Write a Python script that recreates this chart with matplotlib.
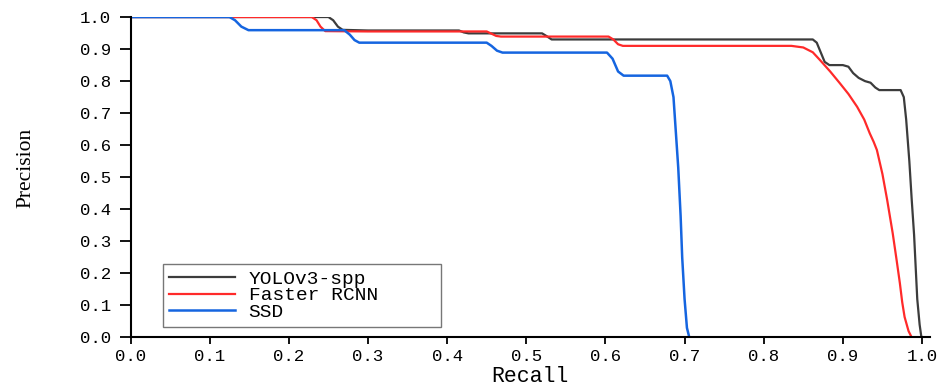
import matplotlib
matplotlib.use("Agg")
import matplotlib.pyplot as plt

# PR curves
yolo_recall = [0.0, 0.250, 0.256, 0.262, 0.268, 0.300, 0.415, 0.421, 0.427, 0.520,
               0.526, 0.532, 0.862, 0.867, 0.872, 0.877, 0.883, 0.900, 0.907, 0.913,
               0.920, 0.928, 0.935, 0.941, 0.946, 0.973, 0.977, 0.980, 0.984, 0.987,
               0.990, 0.994, 0.997, 0.999, 1.000]
yolo_prec = [1.0, 1.0, 0.99, 0.97, 0.96, 0.958, 0.958, 0.952, 0.949, 0.949,
             0.94, 0.93, 0.93, 0.92, 0.89, 0.86, 0.85, 0.85, 0.845, 0.825,
             0.81, 0.80, 0.795, 0.78, 0.772, 0.772, 0.75, 0.68, 0.55, 0.43,
             0.32, 0.12, 0.04, 0.005, 0.0]

frcnn_recall = [0.0, 0.229, 0.235, 0.240, 0.246, 0.300, 0.450, 0.456, 0.462, 0.468,
                0.604, 0.610, 0.616, 0.622, 0.835, 0.850, 0.862, 0.871, 0.884, 0.896,
                0.907, 0.918, 0.927, 0.934, 0.939, 0.943, 0.950, 0.956, 0.963, 0.968,
                0.972, 0.975, 0.978, 0.983, 0.987, 1.0]
frcnn_prec = [1.0, 1.0, 0.99, 0.97, 0.956, 0.955, 0.955, 0.948, 0.941, 0.939,
              0.939, 0.93, 0.915, 0.91, 0.91, 0.905, 0.89, 0.866, 0.83, 0.794,
              0.76, 0.72, 0.68, 0.637, 0.61, 0.585, 0.51, 0.429, 0.325, 0.24,
              0.17, 0.11, 0.064, 0.02, 0.0, 0.0]

ssd_recall = [0.0, 0.125, 0.132, 0.140, 0.149, 0.270, 0.277, 0.283, 0.289, 0.450,
              0.456, 0.463, 0.470, 0.602, 0.609, 0.616, 0.623, 0.678, 0.682, 0.686,
              0.689, 0.692, 0.695, 0.697, 0.700, 0.703, 0.706, 1.0]
ssd_prec = [1.0, 1.0, 0.99, 0.97, 0.959, 0.959, 0.945, 0.928, 0.92, 0.92,
            0.91, 0.895, 0.889, 0.889, 0.87, 0.83, 0.817, 0.817, 0.80, 0.75,
            0.64, 0.53, 0.38, 0.25, 0.12, 0.03, 0.0, 0.0]

xticks = [0.0, 0.1, 0.2, 0.3, 0.4, 0.5, 0.6, 0.7, 0.8, 0.9, 1.0]
yticks = [0.0, 0.1, 0.2, 0.3, 0.4, 0.5, 0.6, 0.7, 0.8, 0.9, 1.0]

mono = "Liberation Mono"

fig = plt.figure(figsize=(9.46, 3.87), dpi=100)
ax = fig.add_axes([0.138, 0.128, 0.845, 0.828])

ax.plot(yolo_recall, yolo_prec, color="#3c3c3c", lw=1.6, label="YOLOv3-spp")
ax.plot(frcnn_recall, frcnn_prec, color="#ff2a2a", lw=1.6, label="Faster RCNN")
ax.plot(ssd_recall, ssd_prec, color="#1565e0", lw=1.8, label="SSD")

ax.set_xlim(0, 1.01)
ax.set_ylim(0, 1.0)
ax.set_xticks(xticks)
ax.set_yticks(yticks)
ax.set_xticklabels([f"{v:.1f}" for v in xticks], fontfamily=mono, fontsize=12.5)
ax.set_yticklabels([f"{v:.1f}" for v in yticks], fontfamily=mono, fontsize=12.5)
ax.tick_params(axis="y", direction="out", length=8, width=1.3, pad=6)
ax.tick_params(axis="x", direction="out", length=5, width=1.3, pad=3)

for s in ["top", "right"]:
    ax.spines[s].set_visible(False)
for s in ["left", "bottom"]:
    ax.spines[s].set_linewidth(1.5)
ax.spines["left"].set_bounds(0, 1.0)

ax.set_xlabel("Recall", fontfamily=mono, fontsize=15.5, labelpad=2)
ax.set_ylabel("Precision", fontfamily="Liberation Serif", fontsize=15.5)
ax.yaxis.set_label_coords(-0.119, 0.53)

leg = ax.legend(loc="lower left", bbox_to_anchor=(0.0407, 0.033, 0.348, 0.18),
                mode="expand", prop={"family": mono, "size": 14}, frameon=True,
                fancybox=False, edgecolor="#555555", handlelength=3.4,
                labelspacing=-0.05, borderpad=0.3, handletextpad=0.7,
                borderaxespad=0)
leg.get_frame().set_linewidth(1.0)

fig.savefig("out.png", dpi=100)
